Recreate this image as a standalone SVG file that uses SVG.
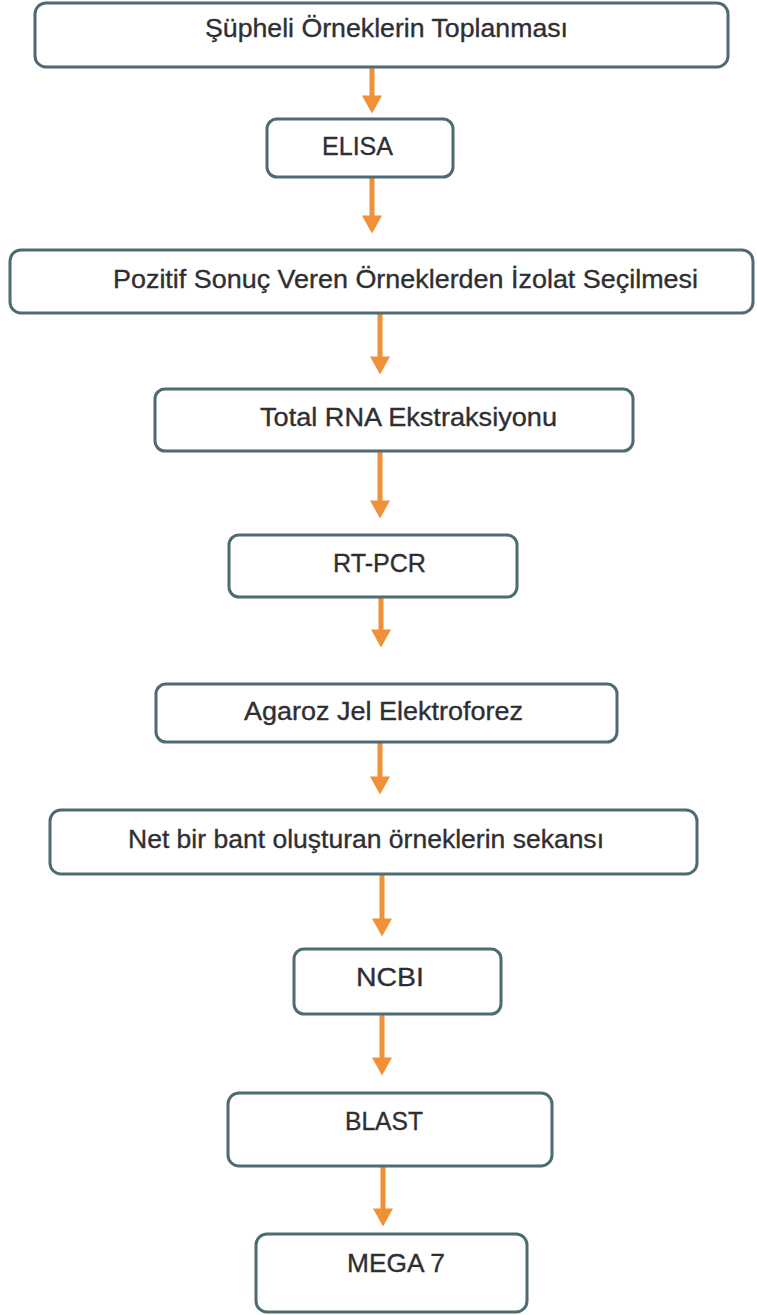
<svg xmlns="http://www.w3.org/2000/svg" width="757" height="1315" viewBox="0 0 757 1315">
  <style>
    .box { fill: #ffffff; stroke: #4e6a73; stroke-width: 3; }
    .lbl { font-family: "Liberation Sans", Arial, sans-serif; font-size: 26px; fill: #2f2f33; stroke: #2f2f33; stroke-width: 0.35; text-anchor: middle; }
    .arr { stroke: #f0913a; stroke-width: 5; fill: none; marker-end: url(#head); }
  </style>
  <defs>
    <marker id="head" markerUnits="userSpaceOnUse" markerWidth="20" markerHeight="20" refX="0.5" refY="10" orient="auto" viewBox="0 0 18 20">
      <path d="M0,0 L18,10 L0,20 z" fill="#f0913a"/>
    </marker>
  </defs>
  <rect width="757" height="1315" fill="#ffffff"/>
  <g id="connectors">
    <line class="arr" x1="372" y1="68" x2="372" y2="96"/>
    <line class="arr" x1="372" y1="178" x2="372" y2="216"/>
    <line class="arr" x1="380" y1="314" x2="380" y2="357"/>
    <line class="arr" x1="380" y1="452" x2="380" y2="501"/>
    <line class="arr" x1="381" y1="598" x2="381" y2="630"/>
    <line class="arr" x1="380" y1="743" x2="380" y2="777"/>
    <line class="arr" x1="382" y1="875" x2="382" y2="919"/>
    <line class="arr" x1="382" y1="1015" x2="382" y2="1058"/>
    <line class="arr" x1="383" y1="1167" x2="383" y2="1209"/>
  </g>
  <g id="n1">
    <rect class="box" x="35" y="3" width="693" height="64" rx="11"/>
    <text class="lbl" x="386.5" y="37" textLength="363" lengthAdjust="spacingAndGlyphs">Şüpheli  Örneklerin  Toplanması</text>
  </g>
  <g id="n2">
    <rect class="box" x="267" y="119" width="186" height="58" rx="10"/>
    <text class="lbl" x="357.5" y="155" textLength="71" lengthAdjust="spacingAndGlyphs">ELISA</text>
  </g>
  <g id="n3">
    <rect class="box" x="10" y="250" width="743" height="63" rx="11"/>
    <text class="lbl" x="405.5" y="288" textLength="585" lengthAdjust="spacingAndGlyphs">Pozitif Sonuç Veren Örneklerden  İzolat  Seçilmesi</text>
  </g>
  <g id="n4">
    <rect class="box" x="155" y="389" width="478" height="62" rx="10"/>
    <text class="lbl" x="408.5" y="426" textLength="297" lengthAdjust="spacingAndGlyphs">Total RNA Ekstraksiyonu</text>
  </g>
  <g id="n5">
    <rect class="box" x="229" y="535" width="288" height="62" rx="10"/>
    <text class="lbl" x="379.5" y="572" textLength="93" lengthAdjust="spacingAndGlyphs">RT-PCR</text>
  </g>
  <g id="n6">
    <rect class="box" x="156" y="684" width="461" height="58" rx="10"/>
    <text class="lbl" x="383.5" y="720" textLength="279" lengthAdjust="spacingAndGlyphs">Agaroz Jel Elektroforez</text>
  </g>
  <g id="n7">
    <rect class="box" x="50" y="810" width="647" height="64" rx="11"/>
    <text class="lbl" x="366" y="848" textLength="476" lengthAdjust="spacingAndGlyphs">Net bir bant oluşturan  örneklerin  sekansı</text>
  </g>
  <g id="n8">
    <rect class="box" x="294" y="949" width="207" height="65" rx="10"/>
    <text class="lbl" x="390" y="986" textLength="68" lengthAdjust="spacingAndGlyphs">NCBI</text>
  </g>
  <g id="n9">
    <rect class="box" x="228" y="1093" width="324" height="73" rx="11"/>
    <text class="lbl" x="384" y="1130" textLength="78" lengthAdjust="spacingAndGlyphs">BLAST</text>
  </g>
  <g id="n10">
    <rect class="box" x="256" y="1234" width="271" height="78" rx="11"/>
    <text class="lbl" x="396" y="1272" textLength="98" lengthAdjust="spacingAndGlyphs">MEGA 7</text>
  </g>
</svg>
